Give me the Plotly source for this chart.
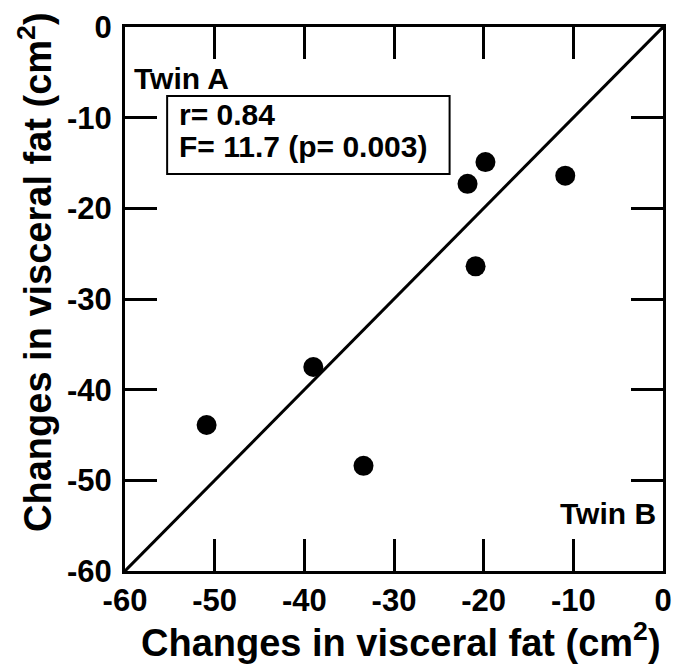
import plotly.graph_objects as go

# Data (changes in visceral fat, cm^2)
twin_b = [-50.9, -39.0, -33.4, -21.8, -19.8, -20.9, -10.9]   # x axis
twin_a = [-43.9, -37.5, -48.4, -17.3, -14.9, -26.4, -16.4]   # y axis
identity = [-60, 0]
tick_vals = [-60, -50, -40, -30, -20, -10, 0]
tick_text = ["-60", "-50", "-40", "-30", "-20", "-10", "0"]
axis_title = "Changes in visceral fat (cm<sup>2</sup>)"
stats_lines = ["r= 0.84", "F= 11.7 (p= 0.003)"]

FONT = "Liberation Sans, Arial, Helvetica, sans-serif"

fig = go.Figure()
fig.add_trace(go.Scatter(x=identity, y=identity, mode="lines",
                         line=dict(color="black", width=3), showlegend=False,
                         hoverinfo="skip"))
fig.add_trace(go.Scatter(x=twin_b, y=twin_a, mode="markers",
                         marker=dict(color="black", size=20), showlegend=False))

axis_common = dict(
    range=[-60, 0], tickmode="array", tickvals=tick_vals,
    ticktext=["<b>%s</b>" % t for t in tick_text],
    ticks="inside", ticklen=32, tickwidth=3, tickcolor="black",
    showline=True, linewidth=3, linecolor="black", mirror="ticks",
    showgrid=False, zeroline=False, automargin=False,
    tickfont=dict(family=FONT, size=31, color="black"),
)

fig.update_xaxes(**axis_common, ticklabelstandoff=0)
fig.update_yaxes(**axis_common, ticklabelstandoff=4)

# axis titles placed as annotations (paper coords)
fig.add_annotation(x=0.513, y=-0.127, xref="paper", yref="paper",
                   text="<b>%s</b>" % axis_title, showarrow=False,
                   xanchor="center", yanchor="middle",
                   font=dict(family=FONT, size=38, color="black"))
fig.add_annotation(x=-0.167, y=0.55, xref="paper", yref="paper",
                   text="<b>%s</b>" % axis_title, showarrow=False, textangle=-90,
                   xanchor="center", yanchor="middle",
                   font=dict(family=FONT, size=38, color="black"))

fig.add_annotation(x=-59.2, y=-5.7, xref="x", yref="y", text="<b>Twin A</b>",
                   showarrow=False, xanchor="left", yanchor="middle",
                   font=dict(family=FONT, size=30, color="black"))
fig.add_annotation(x=-0.6, y=-53.7, xref="x", yref="y", text="<b>Twin B</b>",
                   showarrow=False, xanchor="right", yanchor="middle",
                   font=dict(family=FONT, size=30, color="black"))

# statistics box
fig.add_shape(type="rect", xref="x", yref="y", x0=-55.3, x1=-23.8, y0=-7.6, y1=-16.2,
              line=dict(color="black", width=2), fillcolor="white", layer="below")
for line_text, yy in zip(stats_lines, [-9.7, -13.2]):
    fig.add_annotation(x=-54.2, y=yy, xref="x", yref="y",
                       text="<b>%s</b>" % line_text,
                       showarrow=False, xanchor="left", yanchor="middle",
                       font=dict(family=FONT, size=30, color="black"))

fig.update_layout(
    width=684, height=667,
    margin=dict(l=117, r=29, t=19, b=104),
    plot_bgcolor="white", paper_bgcolor="white",
)

fig.write_html("out.html")
